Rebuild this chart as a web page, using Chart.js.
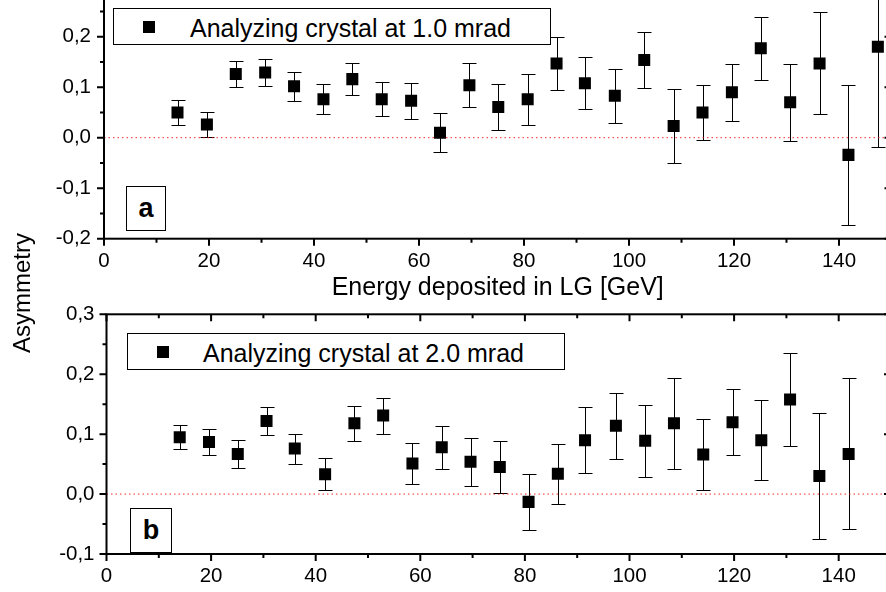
<!DOCTYPE html>
<html>
<head>
<meta charset="utf-8">
<script src="https://cdn.jsdelivr.net/npm/chart.js@4.4.1/dist/chart.umd.min.js"></script>
<style>
html,body{margin:0;padding:0;background:#fff;}
#wrap{position:relative;width:886px;height:592px;overflow:hidden;background:#fff;font-family:"Liberation Sans",Arial,sans-serif;color:#000;}
canvas{position:absolute;left:0;}
#cTop{top:-40px;}
#cBot{top:290px;}
.leg{position:absolute;border:1.5px solid #000;box-sizing:border-box;background:#fff;}
.mk{position:absolute;width:12px;height:12px;background:#000;}
.lt{position:absolute;font-size:25px;line-height:28px;white-space:nowrap;}
.tag{position:absolute;border:1.5px solid #000;box-sizing:border-box;display:flex;align-items:center;justify-content:center;font-weight:bold;font-size:27px;background:#fff;}
#ytitle{position:absolute;left:22px;top:293px;transform:translate(-50%,-50%) rotate(-90deg);font-size:24px;white-space:nowrap;}
</style>
</head>
<body>
<div id="wrap">
  <canvas id="cTop" width="900" height="346"></canvas>
  <canvas id="cBot" width="900" height="302"></canvas>
  <div class="leg" style="left:113px;top:8px;width:438px;height:37px;"></div>
  <div class="mk" style="left:143px;top:21px;"></div>
  <div class="lt" id="legTop" style="left:190px;top:14px;"></div>
  <div class="leg" style="left:127px;top:333px;width:438px;height:37px;"></div>
  <div class="mk" style="left:157px;top:346px;"></div>
  <div class="lt" id="legBot" style="left:203px;top:339px;"></div>
  <div class="tag" style="left:126px;top:186px;width:40px;height:45px;">a</div>
  <div class="tag" style="left:130px;top:508px;width:42px;height:45px;">b</div>
  <div id="ytitle">Asymmetry</div>
</div>
<script>
// ---------- data ----------
const seriesTopName = 'Analyzing crystal at 1.0 mrad';
const seriesBotName = 'Analyzing crystal at 2.0 mrad';
const xTitle = 'Energy deposited in LG [GeV]';
const yTitle = 'Asymmetry';

const energyTop = [14.0, 19.6, 25.1, 30.7, 36.2, 41.8, 47.3, 52.9, 58.5, 64.0, 69.6, 75.1, 80.7, 86.2, 91.6, 97.3, 102.9, 108.5, 114.0, 119.6, 125.1, 130.7, 136.3, 141.8, 147.4];
const asymTop   = [0.050, 0.026, 0.126, 0.129, 0.102, 0.076, 0.116, 0.076, 0.073, 0.010, 0.104, 0.061, 0.076, 0.147, 0.108, 0.083, 0.154, 0.023, 0.050, 0.090, 0.177, 0.070, 0.147, -0.034, 0.180];
const errTop    = [0.024, 0.024, 0.026, 0.027, 0.029, 0.030, 0.032, 0.034, 0.036, 0.038, 0.043, 0.045, 0.050, 0.052, 0.051, 0.053, 0.056, 0.073, 0.055, 0.056, 0.062, 0.076, 0.101, 0.138, 0.199];

const energyBot = [14.0, 19.6, 25.1, 30.6, 36.0, 41.8, 47.4, 52.9, 58.5, 64.1, 69.6, 75.2, 80.7, 86.3, 91.5, 97.4, 103.0, 108.5, 114.1, 119.7, 125.2, 130.7, 136.3, 141.9];
const asymBot   = [0.095, 0.087, 0.067, 0.122, 0.076, 0.033, 0.118, 0.131, 0.051, 0.078, 0.054, 0.045, -0.013, 0.034, 0.090, 0.114, 0.089, 0.118, 0.066, 0.120, 0.090, 0.158, 0.030, 0.067];
const errBot    = [0.020, 0.021, 0.023, 0.023, 0.025, 0.027, 0.029, 0.030, 0.034, 0.036, 0.040, 0.044, 0.047, 0.050, 0.055, 0.055, 0.060, 0.076, 0.060, 0.055, 0.067, 0.078, 0.105, 0.126];

const xMajorTicks = [0, 20, 40, 60, 80, 100, 120, 140];
const xTickLabels = ['0', '20', '40', '60', '80', '100', '120', '140'];
const xMinorTicks = [10, 30, 50, 70, 90, 110, 130, 150];

const yMajorTop = [-0.2, -0.1, 0, 0.1, 0.2, 0.3];
const yTickLabelsTop = ['-0,2', '-0,1', '0,0', '0,1', '0,2', '0,3'];
const yMinorTop = [-0.15, -0.05, 0.05, 0.15, 0.25];

const yMajorBot = [-0.1, 0, 0.1, 0.2, 0.3];
const yTickLabelsBot = ['-0,1', '0,0', '0,1', '0,2', '0,3'];
const yMinorBot = [-0.05, 0.05, 0.15, 0.25];

const xRange = [0, 150];
const zeroLine = [0, 0];

// ---------- helpers ----------
Chart.defaults.font.family = '"Liberation Sans", Arial, sans-serif';
Chart.defaults.color = '#000';

document.getElementById('legTop').textContent = seriesTopName;
document.getElementById('legBot').textContent = seriesBotName;
document.getElementById('ytitle').textContent = yTitle;

function errorBarPlugin(xs, ys, es) {
  return {
    id: 'errbars',
    beforeDatasetsDraw(chart) {
      const {ctx, chartArea: a, scales} = chart;
      const sx = scales.x, sy = scales.y;
      ctx.save();
      ctx.beginPath();
      ctx.rect(a.left, a.top, a.right - a.left, a.bottom - a.top);
      ctx.clip();
      ctx.strokeStyle = '#000';
      ctx.lineWidth = 1;
      ctx.beginPath();
      xs.forEach((xv, i) => {
        const px = Math.round(sx.getPixelForValue(xv)) + 0.5;
        const pt = Math.round(sy.getPixelForValue(ys[i] + es[i])) + 0.5;
        const pb = Math.round(sy.getPixelForValue(ys[i] - es[i])) + 0.5;
        ctx.moveTo(px, pt); ctx.lineTo(px, pb);
        ctx.moveTo(px - 7, pt); ctx.lineTo(px + 7, pt);
        ctx.moveTo(px - 7, pb); ctx.lineTo(px + 7, pb);
      });
      ctx.stroke();
      ctx.restore();
    }
  };
}

function framePlugin(yMaj, yMin) {
  return {
    id: 'frame',
    afterDatasetsDraw(chart) {
      const {ctx, chartArea: a, scales} = chart;
      const sx = scales.x, sy = scales.y;
      ctx.save();
      ctx.strokeStyle = '#000';
      ctx.lineWidth = 2;
      ctx.strokeRect(a.left, a.top, a.right - a.left, a.bottom - a.top);
      ctx.beginPath();
      const xt = (vals, len) => vals.forEach(v => {
        const p = sx.getPixelForValue(v);
        ctx.moveTo(p, a.bottom); ctx.lineTo(p, a.bottom + len);
        ctx.moveTo(p, a.top); ctx.lineTo(p, a.top + len);
      });
      const yt = (vals, len) => vals.forEach(v => {
        const p = sy.getPixelForValue(v);
        ctx.moveTo(a.left, p); ctx.lineTo(a.left - len, p);
        ctx.moveTo(a.right, p); ctx.lineTo(a.right - len, p);
      });
      xt(xMajorTicks, 7); xt(xMinorTicks, 4);
      yt(yMaj, 7); yt(yMin, 4);
      ctx.stroke();
      ctx.restore();
    }
  };
}

function makeChart(id, o) {
  return new Chart(document.getElementById(id), {
    type: 'scatter',
    data: {
      datasets: [
        {
          label: o.name,
          data: o.xs.map((x, i) => ({x: x, y: o.ys[i]})),
          pointStyle: 'rect',
          pointRadius: 8.5,
          pointHoverRadius: 8.5,
          backgroundColor: '#000',
          borderColor: '#000',
          borderWidth: 0,
          showLine: false,
          order: 0
        },
        {
          type: 'line',
          label: 'zero',
          data: xRange.map((x, i) => ({x: x, y: zeroLine[i]})),
          borderColor: 'rgba(255,0,0,0.85)',
          borderWidth: 1,
          borderDash: [1.5, 3],
          pointRadius: 0,
          fill: false,
          order: 1
        }
      ]
    },
    options: {
      responsive: false,
      animation: false,
      events: [],
      layout: {padding: o.pad},
      plugins: {legend: {display: false}, tooltip: {enabled: false}},
      scales: {
        x: {
          type: 'linear',
          min: xRange[0], max: xRange[1],
          grid: {display: false, drawTicks: false},
          border: {display: false},
          afterBuildTicks: s => { s.ticks = xMajorTicks.map(v => ({value: v})); },
          afterFit: s => { s.height = o.xH; },
          ticks: {
            autoSkip: false, maxRotation: 0, minRotation: 0,
            padding: 10.5,
            font: {size: 20.5},
            callback: (v, i) => xTickLabels[i]
          },
          title: {display: o.showTitle, text: xTitle, font: {size: 25}, padding: {top: 0, bottom: 0}}
        },
        y: {
          type: 'linear',
          min: o.yMin, max: o.yMax,
          grid: {display: false, drawTicks: false},
          border: {display: false},
          afterBuildTicks: s => { s.ticks = o.yMaj.map(v => ({value: v})); },
          afterFit: s => { s.width = o.yW; },
          ticks: {
            autoSkip: false,
            padding: o.yPad,
            font: {size: 20.5},
            callback: (v, i) => o.yLabels[i]
          }
        }
      }
    },
    plugins: [errorBarPlugin(o.xs, o.ys, o.es), framePlugin(o.yMaj, o.yMin2)]
  });
}

makeChart('cTop', {
  name: seriesTopName, xs: energyTop, ys: asymTop, es: errTop,
  yMin: -0.2, yMax: 0.3, yMaj: yMajorTop, yMin2: yMinorTop, yLabels: yTickLabelsTop,
  pad: {top: 26.2, left: 0, right: 8, bottom: 3}, xH: 64.3, yW: 104, yPad: 13, showTitle: true
});
makeChart('cBot', {
  name: seriesBotName, xs: energyBot, ys: asymBot, es: errBot,
  yMin: -0.1, yMax: 0.3, yMaj: yMajorBot, yMin2: yMinorBot, yLabels: yTickLabelsBot,
  pad: {top: 19, left: 0, right: 9, bottom: 2}, xH: 36, yW: 106.5, yPad: 12, showTitle: false
});
</script>
</body>
</html>
